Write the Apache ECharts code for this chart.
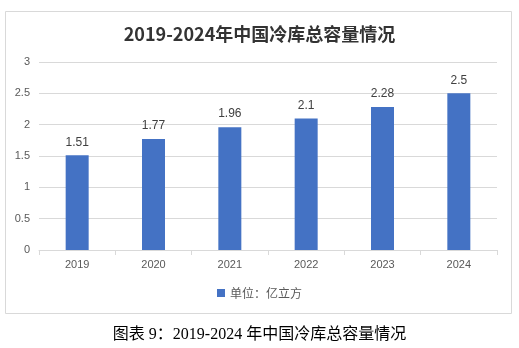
<!DOCTYPE html>
<html>
<head>
<meta charset="utf-8">
<script src="https://cdn.jsdelivr.net/npm/echarts@6/dist/echarts.min.js"></script>
<style>
  html, body { margin: 0; padding: 0; background: #fff; }
  #chart { width: 519px; height: 348px; }
</style>
</head>
<body>
<div id="chart"></div>
<script>
// Cold storage capacity in China, 2019-2024 (unit: 100 million m³)
const years = ['2019', '2020', '2021', '2022', '2023', '2024'];
const capacity = [1.51, 1.77, 1.96, 2.1, 2.28, 2.5];
const seriesName = '单位：亿立方';
const chartTitle = '2019-2024年中国冷库总容量情况';
const captionText = '图表 9：2019-2024 年中国冷库总容量情况';

const chart = echarts.init(document.getElementById('chart'), null, { renderer: 'canvas' });

const sans = '"Noto Sans CJK SC", "Liberation Sans", sans-serif';
const numFont = '"Liberation Sans", "Noto Sans CJK SC", sans-serif';
const serif = '"Liberation Serif", "Noto Sans CJK SC", serif';

chart.setOption({
  animation: false,
  backgroundColor: '#ffffff',
  title: {
    text: chartTitle,
    left: 'center',
    top: 20,
    textStyle: { fontFamily: sans, fontSize: 18, fontWeight: 'bold', color: '#333333' }
  },
  graphic: [
    {
      type: 'rect',
      shape: { x: 5.5, y: 11.5, width: 506, height: 302 },
      style: { fill: 'none', stroke: '#d9d9d9', lineWidth: 1 },
      silent: true
    },
    {
      type: 'text',
      left: 'center',
      top: 327,
      style: { text: captionText, font: '16px ' + serif, fill: '#000000' }
    }
  ],
  legend: {
    bottom: 44,
    left: 'center',
    itemWidth: 8,
    itemHeight: 8,
    icon: 'rect',
    itemGap: 6,
    textStyle: { fontFamily: sans, fontSize: 12, color: '#595959' },
    data: [seriesName]
  },
  grid: { left: 39, right: 22, top: 62, bottom: 98 },
  xAxis: {
    type: 'category',
    data: years,
    axisLine: { lineStyle: { color: '#d9d9d9' } },
    axisTick: { show: true, length: 5, lineStyle: { color: '#d9d9d9' } },
    axisLabel: { fontFamily: numFont, fontSize: 11, color: '#595959', margin: 9 }
  },
  yAxis: {
    type: 'value',
    min: 0,
    max: 3,
    interval: 0.5,
    axisLine: { show: false },
    axisTick: { show: false },
    splitLine: { lineStyle: { color: '#d9d9d9' } },
    axisLabel: { fontFamily: numFont, fontSize: 11, color: '#595959', margin: 9 }
  },
  series: [{
    name: seriesName,
    type: 'bar',
    data: capacity,
    barWidth: 23,
    itemStyle: { color: '#4472c4' },
    label: {
      show: true,
      position: 'top',
      distance: 7,
      fontFamily: numFont,
      fontSize: 12,
      color: '#404040'
    }
  }]
});
</script>
</body>
</html>
